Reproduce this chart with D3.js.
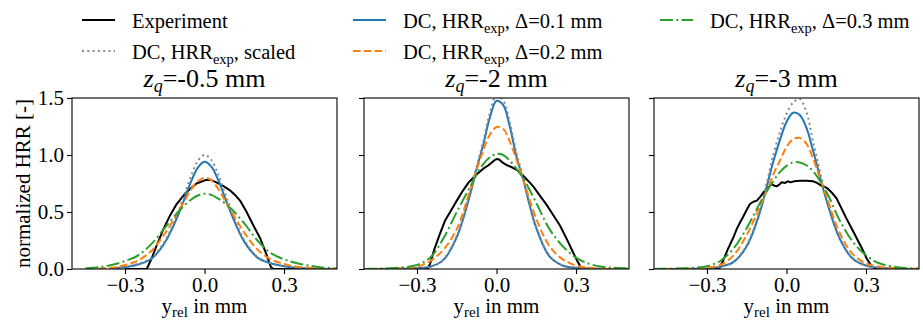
<!DOCTYPE html>
<html>
<head>
<meta charset="utf-8">
<script src="https://cdn.jsdelivr.net/npm/d3@7"></script>
<style>
  body { margin: 0; background: #fff; }
  text { font-family: "Liberation Serif", "Times New Roman", serif; fill: #000; }
</style>
</head>
<body>
<script>
// panel titles (z_q values) and axis ticks
var zqLabels = ["-0.5", "-2", "-3"];
var xTicks = [-0.3, 0, 0.3];
var yTicks = [0, 0.5, 1.0, 1.5];

// common y_rel grid of the simulated profiles
var simX = [-0.5, -0.45, -0.4, -0.35, -0.3, -0.25, -0.2, -0.15, -0.1, -0.075, -0.05, -0.025, 0,
            0.025, 0.05, 0.075, 0.1, 0.15, 0.2, 0.25, 0.3, 0.35, 0.4, 0.45, 0.5];

// z_q = -0.5 mm
var scaled_05 = [null, null, 0.002, 0.006, 0.02, 0.045, 0.1, 0.245, 0.5, 0.66, 0.82, 0.95, 1.0, 0.96, 0.84, 0.68, 0.52, 0.255, 0.105, 0.05, 0.025, 0.01, 0.004, 0.001, 0];
var d01_05 = [null, null, null, 0.005, 0.018, 0.04, 0.09, 0.23, 0.47, 0.62, 0.77, 0.89, 0.94, 0.9, 0.79, 0.64, 0.49, 0.24, 0.1, 0.05, 0.025, 0.01, 0.004, 0.001, 0];
var d02_05 = [null, null, 0.003, 0.01, 0.035, 0.075, 0.16, 0.31, 0.5, 0.6, 0.7, 0.77, 0.8, 0.78, 0.71, 0.61, 0.51, 0.32, 0.17, 0.085, 0.045, 0.02, 0.01, 0.004, 0.001];
var d03_05 = [null, 0.005, 0.015, 0.035, 0.07, 0.12, 0.22, 0.36, 0.5, 0.56, 0.61, 0.645, 0.66, 0.65, 0.62, 0.58, 0.53, 0.4, 0.25, 0.14, 0.085, 0.05, 0.028, 0.012, 0.004];
var expX_05 = [-0.3, -0.218, -0.2, -0.18, -0.155, -0.13, -0.105, -0.074, -0.05, -0.03, 0.004, 0.025, 0.045, 0.07, 0.096, 0.115, 0.134, 0.159, 0.185, 0.21, 0.235, 0.25, 0.26, 0.5];
var expY_05 = [0, 0, 0.09, 0.21, 0.35, 0.47, 0.57, 0.66, 0.71, 0.75, 0.78, 0.78, 0.76, 0.73, 0.69, 0.65, 0.6, 0.5, 0.38, 0.27, 0.12, 0.02, 0, 0];

// z_q = -2 mm
var scaled_2 = [0, 0, 0.001, 0.003, 0.008, 0.02, 0.085, 0.29, 0.67, 0.9, 1.12, 1.37, 1.52, 1.48, 1.29, 1.02, 0.81, 0.37, 0.115, 0.03, 0.01, 0.003, 0.001, 0, 0];
var d01_2 = [0, 0, 0.001, 0.003, 0.008, 0.02, 0.08, 0.28, 0.65, 0.88, 1.09, 1.33, 1.475, 1.44, 1.25, 0.99, 0.79, 0.36, 0.11, 0.03, 0.01, 0.003, 0.001, 0, 0];
var d02_2 = [0, 0.001, 0.003, 0.008, 0.02, 0.07, 0.17, 0.35, 0.69, 0.87, 1.04, 1.18, 1.245, 1.23, 1.12, 0.96, 0.79, 0.44, 0.2, 0.085, 0.03, 0.012, 0.005, 0.002, 0.001];
var d03_2 = [0.001, 0.003, 0.006, 0.015, 0.035, 0.1, 0.27, 0.5, 0.72, 0.83, 0.92, 0.98, 1.01, 1.0, 0.95, 0.88, 0.8, 0.58, 0.35, 0.2, 0.1, 0.045, 0.02, 0.01, 0.004];
var expX_2 = [-0.5, -0.26, -0.25, -0.235, -0.215, -0.195, -0.175, -0.155, -0.126, -0.105, -0.088, -0.07, -0.05, -0.03, -0.01, 0, 0.01, 0.025, 0.04, 0.06, 0.076, 0.092, 0.108, 0.125, 0.14, 0.165, 0.19, 0.215, 0.24, 0.27, 0.29, 0.305, 0.322, 0.5];
var expY_2 = [0, 0, 0.05, 0.17, 0.3, 0.42, 0.5, 0.58, 0.69, 0.76, 0.8, 0.84, 0.88, 0.91, 0.95, 0.965, 0.96, 0.93, 0.91, 0.89, 0.87, 0.84, 0.8, 0.76, 0.72, 0.64, 0.56, 0.47, 0.38, 0.24, 0.14, 0.07, 0, 0];

// z_q = -3 mm
var scaled_3 = [0, 0, 0.001, 0.002, 0.005, 0.02, 0.065, 0.21, 0.52, 0.75, 1.0, 1.2, 1.36, 1.46, 1.49, 1.38, 1.12, 0.64, 0.28, 0.095, 0.03, 0.01, 0.003, 0.001, 0];
var d01_3 = [0, 0, 0.001, 0.002, 0.005, 0.02, 0.06, 0.2, 0.5, 0.72, 0.94, 1.13, 1.29, 1.37, 1.35, 1.24, 1.04, 0.61, 0.27, 0.09, 0.03, 0.01, 0.003, 0.001, 0];
var d02_3 = [0, 0.001, 0.002, 0.005, 0.012, 0.035, 0.12, 0.3, 0.55, 0.68, 0.83, 0.95, 1.07, 1.14, 1.15, 1.1, 0.97, 0.64, 0.32, 0.13, 0.05, 0.02, 0.008, 0.003, 0.001];
var d03_3 = [0.001, 0.002, 0.005, 0.01, 0.025, 0.07, 0.18, 0.36, 0.58, 0.68, 0.77, 0.85, 0.905, 0.935, 0.935, 0.91, 0.86, 0.68, 0.43, 0.24, 0.12, 0.05, 0.022, 0.008, 0.003];
var expX_3 = [-0.5, -0.255, -0.24, -0.22, -0.2, -0.188, -0.175, -0.163, -0.15, -0.138, -0.125, -0.112, -0.1, -0.081, -0.066, -0.056, -0.045, -0.037, -0.025, -0.018, -0.005, 0.005, 0.015, 0.03, 0.05, 0.075, 0.1, 0.115, 0.133, 0.145, 0.158, 0.175, 0.189, 0.21, 0.227, 0.245, 0.265, 0.285, 0.303, 0.32, 0.334, 0.5];
var expY_3 = [0, 0, 0.07, 0.18, 0.28, 0.35, 0.41, 0.46, 0.52, 0.57, 0.59, 0.6, 0.63, 0.69, 0.72, 0.745, 0.73, 0.725, 0.745, 0.76, 0.755, 0.77, 0.76, 0.77, 0.775, 0.775, 0.77, 0.755, 0.73, 0.72, 0.7, 0.66, 0.62, 0.52, 0.44, 0.36, 0.27, 0.18, 0.09, 0.03, 0, 0];

window.onload = function(){
    var w = 923, h = 320;
    var panelLeft = [72, 364, 654], panelW = 265;
    var plotTop = 98, plotBottom = 269;

    //line styles, same order as the legend
    var styles = {
        exp:    {stroke: "#000000", dash: null},
        scaled: {stroke: "#888888", dash: "2,3.3"},
        d01:    {stroke: "#1f77b4", dash: null},
        d02:    {stroke: "#ff7f0e", dash: "7.5,3.3"},
        d03:    {stroke: "#2ca02c", dash: "13,3.3,2,3.3"}
    };

    var panels = [
        {zq: zqLabels[0], expX: expX_05, expY: expY_05, scaled: scaled_05, d01: d01_05, d02: d02_05, d03: d03_05},
        {zq: zqLabels[1], expX: expX_2, expY: expY_2, scaled: scaled_2, d01: d01_2, d02: d02_2, d03: d03_2},
        {zq: zqLabels[2], expX: expX_3, expY: expY_3, scaled: scaled_3, d01: d01_3, d02: d02_3, d03: d03_3}
    ];

    var svg = d3.select("body")
        .append("svg")
        .attr("width", w)
        .attr("height", h);

    var y = d3.scaleLinear()
        .domain([0, 1.5])
        .range([plotBottom, plotTop]);

    var fmt = d3.format(".1f");

    panels.forEach(function(p, i){
        var x = d3.scaleLinear()
            .domain([-0.5, 0.5])
            .range([panelLeft[i], panelLeft[i] + panelW]);

        var g = svg.append("g");

        //clip so the curves stay inside the frame
        g.append("clipPath")
            .attr("id", "clip" + i)
            .append("rect")
            .attr("x", panelLeft[i])
            .attr("y", plotTop)
            .attr("width", panelW)
            .attr("height", plotBottom - plotTop);

        var simLine = d3.line()
            .defined(function(d){ return d[1] != null; })
            .x(function(d){ return x(d[0]); })
            .y(function(d){ return y(d[1]); })
            .curve(d3.curveCatmullRom.alpha(0.5));

        var expLine = d3.line()
            .x(function(d){ return x(d[0]); })
            .y(function(d){ return y(d[1]); });

        var curves = g.append("g").attr("clip-path", "url(#clip" + i + ")");

        curves.append("path")
            .datum(d3.zip(p.expX, p.expY))
            .attr("d", expLine)
            .attr("fill", "none")
            .attr("stroke", styles.exp.stroke)
            .attr("stroke-width", 2)
            .attr("stroke-linejoin", "round");

        ["d01", "scaled", "d02", "d03"].forEach(function(key){
            curves.append("path")
                .datum(d3.zip(simX, p[key]))
                .attr("d", simLine)
                .attr("fill", "none")
                .attr("stroke", styles[key].stroke)
                .attr("stroke-width", 2)
                .attr("stroke-dasharray", styles[key].dash);
        });

        //frame
        g.append("rect")
            .attr("x", panelLeft[i])
            .attr("y", plotTop)
            .attr("width", panelW)
            .attr("height", plotBottom - plotTop)
            .attr("fill", "none")
            .attr("stroke", "#000")
            .attr("stroke-width", 1.1);

        //x axis
        var xAxis = g.append("g")
            .attr("transform", "translate(0," + plotBottom + ")")
            .call(d3.axisBottom(x).tickValues(xTicks).tickSize(5).tickFormat(fmt));
        xAxis.select(".domain").remove();

        //y axis, labels only on the first panel
        var yAxis = g.append("g")
            .attr("transform", "translate(" + panelLeft[i] + ",0)")
            .call(d3.axisLeft(y).tickValues(yTicks).tickSize(5)
                .tickFormat(i == 0 ? fmt : function(){ return ""; }));
        yAxis.select(".domain").remove();

        g.selectAll(".tick line").attr("stroke", "#000").attr("stroke-width", 1.1);
        g.selectAll(".tick text")
            .style("font-family", "Liberation Serif, Times New Roman, serif")
            .style("font-size", "21px")
            .attr("fill", "#000");

        var cx = panelLeft[i] + panelW / 2;

        //title z_q=...
        var title = g.append("text")
            .attr("x", cx)
            .attr("y", 87)
            .attr("text-anchor", "middle")
            .style("font-size", "26px");
        title.append("tspan").style("font-style", "italic").text("z");
        title.append("tspan").style("font-style", "italic").style("font-size", "18px").attr("dy", 5).text("q");
        title.append("tspan").attr("dy", -5).text("=" + p.zq + " mm");

        //x label
        var xl = g.append("text")
            .attr("x", cx)
            .attr("y", 313)
            .attr("text-anchor", "middle")
            .style("font-size", "21px");
        xl.append("tspan").text("y");
        xl.append("tspan").style("font-size", "15px").attr("dy", 4).text("rel");
        xl.append("tspan").attr("dy", -4).text(" in mm");
    });

    //y label
    svg.append("text")
        .attr("transform", "translate(30," + (plotTop + plotBottom) / 2 + ") rotate(-90)")
        .attr("text-anchor", "middle")
        .style("font-size", "21px")
        .text("normalized HRR [-]");

    //legend
    var legendItems = [
        {key: "exp",    x: 82,  y: 20, label: ["Experiment"]},
        {key: "scaled", x: 82,  y: 51, label: ["DC, HRR", "exp", ", scaled"]},
        {key: "d01",    x: 353, y: 20, label: ["DC, HRR", "exp", ", \u0394=0.1 mm"]},
        {key: "d02",    x: 353, y: 51, label: ["DC, HRR", "exp", ", \u0394=0.2 mm"]},
        {key: "d03",    x: 660, y: 20, label: ["DC, HRR", "exp", ", \u0394=0.3 mm"]}
    ];

    var legend = svg.selectAll(".legendItem")
        .data(legendItems)
        .enter()
        .append("g")
        .attr("class", "legendItem");

    legend.append("line")
        .attr("x1", function(d){ return d.x; })
        .attr("x2", function(d){ return d.x + 33; })
        .attr("y1", function(d){ return d.y; })
        .attr("y2", function(d){ return d.y; })
        .attr("stroke", function(d){ return styles[d.key].stroke; })
        .attr("stroke-width", 2)
        .attr("stroke-dasharray", function(d){ return styles[d.key].dash; });

    legend.each(function(d){
        var t = d3.select(this).append("text")
            .attr("x", d.x + 50)
            .attr("y", d.y + 7.5)
            .style("font-size", "20.5px");
        t.append("tspan").text(d.label[0]);
        if (d.label.length > 1){
            t.append("tspan").style("font-size", "14.5px").attr("dy", 5).text(d.label[1]);
            t.append("tspan").attr("dy", -5).text(d.label[2]);
        }
    });
};
</script>
</body>
</html>
